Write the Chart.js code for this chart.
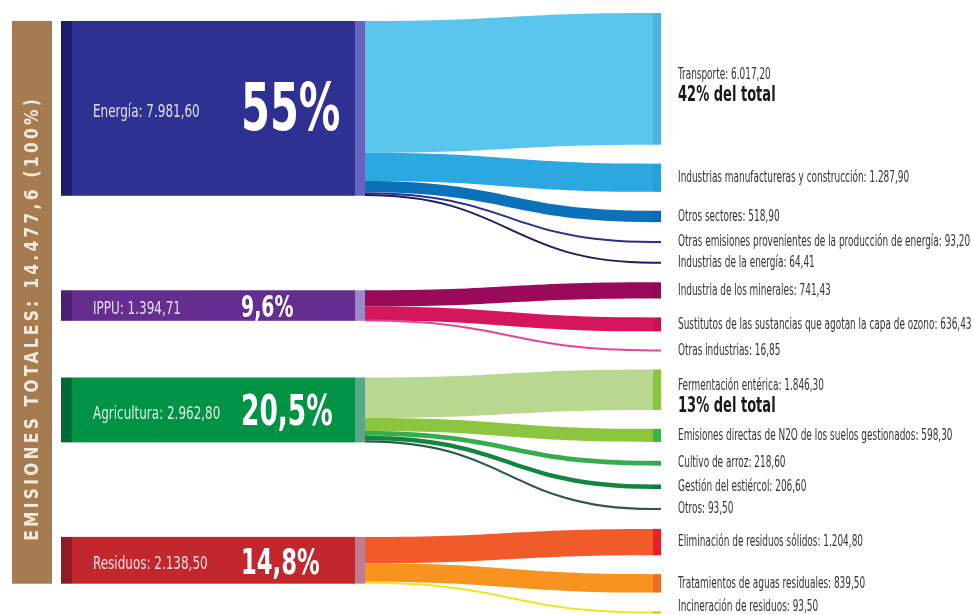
<!DOCTYPE html>
<html>
<head>
<meta charset="utf-8">
<script src="https://cdn.jsdelivr.net/npm/chart.js@4.4.1/dist/chart.umd.min.js"></script>
<style>
  html, body { margin: 0; padding: 0; background: #fff; }
  #wrap { width: 974px; height: 615px; }
</style>
</head>
<body>
<div id="wrap"><canvas id="sankey" width="974" height="615"></canvas></div>
<script>
// datos (Gg CO2 eq)
const sectores = ['Energía', 'IPPU', 'Agricultura', 'Residuos'];
const sectorValores = [7981.60, 1394.71, 2962.80, 2138.50];
const sectorPorcentajes = ['55%', '9,6%', '20,5%', '14,8%'];

const subcategorias = [
  'Transporte',
  'Industrias manufactureras y construcción',
  'Otros sectores',
  'Otras emisiones provenientes de la producción de energía',
  'Industrias de la energía',
  'Industria de los minerales',
  'Sustitutos de las sustancias que agotan la capa de ozono',
  'Otras industrias',
  'Fermentación entérica',
  'Emisiones directas de N2O de los suelos gestionados',
  'Cultivo de arroz',
  'Gestión del estiércol',
  'Otros',
  'Eliminación de residuos sólidos',
  'Tratamientos de aguas residuales',
  'Incineración de residuos'
];
const subValores = [6017.20, 1287.90, 518.90, 93.20, 64.41, 741.43, 636.43, 16.85,
                    1846.30, 598.30, 218.60, 206.60, 93.50, 1204.80, 839.50, 93.50];
const subSector = [0, 0, 0, 0, 0, 1, 1, 1, 2, 2, 2, 2, 2, 3, 3, 3];
const subNotas = ['42% del total', '', '', '', '', '', '', '', '13% del total', '', '', '', '', '', '', ''];
const totalEmisiones = 14477.6;

// estilos
const FUENTE = "'Liberation Sans Narrow', 'DejaVu Sans Condensed', 'Roboto Condensed', sans-serif";
const colSector = ['#2e3192', '#662d91', '#009245', '#c1272d'];
const colSectorOscuro = ['#1c1b6e', '#4b2072', '#006a36', '#8e1c22'];
const colSectorClaro = ['#6664bf', '#9c87c9', '#5aa888', '#c07c90'];
const colFlujo = ['#5bc6ed', '#2ba8e0', '#0b72b9', '#2b2e8c', '#1c1f5e', '#9b0a5a', '#d6165c', '#e0479a',
                  '#b9d88f', '#8cc63f', '#35ad4a', '#11873e', '#2d5a45', '#f15a29', '#f7931e', '#f3e41a'];
const colNodo = ['#4fb4e0', '#27a0d8', '#0a6bb0', '#2b2e8c', '#1c1f5e', '#8e0a52', '#c8124f', '#d63e8c',
                 '#8cc63f', '#39b54a', '#2fa846', '#0a7d3c', '#2d5a45', '#e8202a', '#ef6b24', '#e0b51a'];
const tamPorcentaje = [66, 30, 42, 36];

const GAP = 863;      // separación entre nodos, en unidades de valor
const DESFASE = 365;  // nodo de origen algo más abajo que su primer destino
let yMax = 0;
subValores.forEach(v => { yMax += v + GAP; });
yMax -= GAP;

function fmt(v, dec) {
  const [e, d] = v.toFixed(dec).split('.');
  return e.replace(/\B(?=(\d{3})+(?!\d))/g, '.') + ',' + d;
}

const sankeyPlugin = {
  id: 'sankey',
  afterDraw(chart) {
    const { ctx, scales: { x, y } } = chart;

    function texto(str, px, py, size, weight, color, sx, align) {
      ctx.save();
      ctx.translate(px, py);
      ctx.scale(sx, 1);
      ctx.font = weight + ' ' + size + 'px ' + FUENTE;
      ctx.fillStyle = color;
      ctx.textBaseline = 'middle';
      ctx.textAlign = align || 'left';
      ctx.fillText(str, 0, 0);
      ctx.restore();
    }

    // posiciones de los destinos
    const subTop = [];
    let cur = 0;
    subValores.forEach((v, i) => { subTop[i] = cur; cur += v + GAP; });

    // posiciones de los orígenes
    const secTop = sectores.map((s, k) => subTop[subSector.indexOf(k)] + DESFASE);

    const xA = x.getPixelForValue(61), xB = x.getPixelForValue(72);
    const xC = x.getPixelForValue(355), xD = x.getPixelForValue(365);
    const xE = x.getPixelForValue(653), xF = x.getPixelForValue(661);
    const xL = x.getPixelForValue(678);

    // barra de total
    const bTop = y.getPixelForValue(secTop[0]);
    const bBot = y.getPixelForValue(secTop[3] + sectorValores[3]);
    ctx.fillStyle = '#a57b51';
    ctx.fillRect(x.getPixelForValue(12), bTop, x.getPixelForValue(52) - x.getPixelForValue(12), bBot - bTop);
    ctx.save();
    ctx.translate(x.getPixelForValue(33), (bTop + bBot) / 2 + 16);
    ctx.rotate(-Math.PI / 2);
    ctx.scale(0.9, 1);
    ctx.font = 'bold 19px ' + FUENTE;
    ctx.letterSpacing = '3.7px';
    ctx.fillStyle = '#f4ead9';
    ctx.textAlign = 'center';
    ctx.textBaseline = 'middle';
    ctx.fillText('EMISIONES TOTALES: ' + fmt(totalEmisiones, 1) + ' (100%)', 0, 0);
    ctx.restore();

    // flujos
    const salida = secTop.slice();
    subValores.forEach((v, i) => {
      const k = subSector[i];
      const a0 = y.getPixelForValue(salida[k]);
      const a1 = y.getPixelForValue(salida[k] + v);
      const b0 = y.getPixelForValue(subTop[i]);
      const b1 = y.getPixelForValue(subTop[i] + v);
      salida[k] += v;
      const xm = (xD + xE) / 2;
      if (b1 - b0 < 2) {
        const ca = (a0 + a1) / 2, cb = (b0 + b1) / 2;
        ctx.strokeStyle = colFlujo[i];
        ctx.lineWidth = 2;
        ctx.beginPath();
        ctx.moveTo(xD, ca);
        ctx.bezierCurveTo(xm, ca, xm, cb, xE, cb);
        ctx.lineTo(xF, cb);
        ctx.stroke();
      } else {
        ctx.fillStyle = colFlujo[i];
        ctx.beginPath();
        ctx.moveTo(xD, a0);
        ctx.bezierCurveTo(xm, a0, xm, b0, xE, b0);
        ctx.lineTo(xE, b1);
        ctx.bezierCurveTo(xm, b1, xm, a1, xD, a1);
        ctx.closePath();
        ctx.fill();
        ctx.fillStyle = colNodo[i];
        ctx.fillRect(xE, b0, xF - xE, b1 - b0);
      }
      // etiqueta
      let cy = (b0 + b1) / 2;
      const lbl = subcategorias[i] + ': ' + fmt(v, 2);
      if (subNotas[i]) {
        texto(lbl, xL, cy - 4, 16, 'normal', '#333333', 0.62);
        texto(subNotas[i], xL, cy + 17, 21, 'bold', '#1a1a1a', 0.69);
      } else {
        cy = Math.min(cy, 607);
        texto(lbl, xL, cy, 16, 'normal', '#333333', 0.62);
      }
    });

    // nodos de origen
    sectores.forEach((s, k) => {
      const t = y.getPixelForValue(secTop[k]);
      const b = y.getPixelForValue(secTop[k] + sectorValores[k]);
      ctx.fillStyle = colSectorOscuro[k];
      ctx.fillRect(xA, t, xB - xA, b - t);
      ctx.fillStyle = colSector[k];
      ctx.fillRect(xB, t, xC - xB, b - t);
      ctx.fillStyle = colSectorClaro[k];
      ctx.fillRect(xC, t, xD - xC, b - t);
      const cy = (t + b) / 2 + 4;
      texto(s + ': ' + fmt(sectorValores[k], 2), x.getPixelForValue(93), cy, 18, 'normal', 'rgba(255,255,255,0.85)', 0.74);
      texto(sectorPorcentajes[k], x.getPixelForValue(241), cy, tamPorcentaje[k], 'bold', '#ffffff', 0.7);
    });
  }
};

new Chart(document.getElementById('sankey').getContext('2d'), {
  type: 'scatter',
  data: { datasets: [{ data: [] }] },
  options: {
    responsive: false,
    animation: false,
    layout: { padding: { top: 13, bottom: 1.5, left: 0, right: 0 } },
    scales: {
      x: { type: 'linear', min: 0, max: 974, display: false },
      y: { type: 'linear', min: 0, max: yMax, reverse: true, display: false }
    },
    plugins: { legend: { display: false }, tooltip: { enabled: false } }
  },
  plugins: [sankeyPlugin]
});
</script>
</body>
</html>
